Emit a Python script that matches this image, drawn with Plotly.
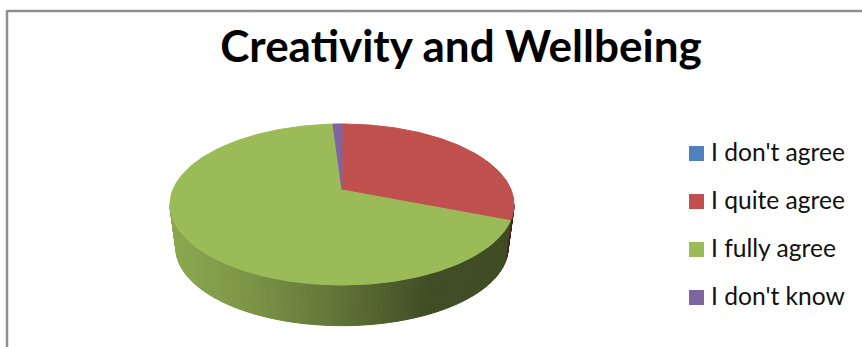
import math
import plotly.graph_objects as go

# Survey shares, in percent
categories = ["I don't agree", "I quite agree", "I fully agree", "I don't know"]
values = [0, 31, 68, 1]
colors = ["#4F81BD", "#C0504D", "#9BBB59", "#8064A2"]
chart_title = "Creativity and Wellbeing"

W, H = 862, 347

# Perspective disc: the angle runs clockwise from the far side of the pie
TOP_CX, TOP_CY = 342, 190
BASE_CY = 234
RX, RY = 169.2, 77.9
TILT = 0.18
BASE_SCALE = 0.965

# Side-wall shading as (screen x, brightness multiplier)
WALL_SHADE = [(170, 0.90), (250, 0.79), (342, 0.61), (430, 0.41), (515, 0.41)]


def project(deg, base=False):
    s, c = math.sin(math.radians(deg)), math.cos(math.radians(deg))
    w = 1 + TILT * c
    scale = BASE_SCALE if base else 1.0
    cy = BASE_CY if base else TOP_CY
    return TOP_CX + scale * RX * s / w, cy - scale * RY * c / w


def shade_at(x):
    for (x0, f0), (x1, f1) in zip(WALL_SHADE, WALL_SHADE[1:]):
        if x <= x1:
            return f0 + (f1 - f0) * (x - x0) / (x1 - x0)
    return WALL_SHADE[-1][1]


def darken(hex_color, factor):
    r, g, b = (int(hex_color[i:i + 2], 16) for i in (1, 3, 5))
    return f"rgb({r * factor:.0f},{g * factor:.0f},{b * factor:.0f})"


# Cumulative slice limits in degrees
total = sum(values)
limits = [0.0]
for v in values:
    limits.append(limits[-1] + 360 * v / total)

fig = go.Figure()


def add_polygon(xs, ys, color):
    fig.add_trace(go.Scatter(
        x=xs, y=ys, mode="lines", fill="toself", fillcolor=color,
        line=dict(color=color, width=1), hoverinfo="skip", showlegend=False,
    ))


# Outer wall, built from narrow strips along the visible front arc
wall_start = math.degrees(math.acos(-TILT))
wall_end = 360 - wall_start
n_strips = 160
for i in range(n_strips):
    a0 = wall_start + (wall_end - wall_start) * i / n_strips
    a1 = wall_start + (wall_end - wall_start) * (i + 1) / n_strips
    mid = (a0 + a1) / 2
    idx = next(k for k in range(len(values)) if limits[k] <= mid < limits[k + 1])
    p = [project(a0), project(a1), project(a1, True), project(a0, True)]
    xs = [q[0] for q in p] + [p[0][0]]
    ys = [q[1] for q in p] + [p[0][1]]
    add_polygon(xs, ys, darken(colors[idx], shade_at((p[0][0] + p[1][0]) / 2)))

# Top face of every non-empty slice
for k, v in enumerate(values):
    if v == 0:
        continue
    steps = max(2, int(limits[k + 1] - limits[k]))
    pts = [project(limits[k] + (limits[k + 1] - limits[k]) * j / steps) for j in range(steps + 1)]
    add_polygon([TOP_CX] + [q[0] for q in pts] + [TOP_CX],
                [TOP_CY] + [q[1] for q in pts] + [TOP_CY], colors[k])

# Key on the right: one square swatch and one label per category
key_y = [153.5, 201.5, 249.5, 297.5]
for name, color, y in zip(categories, colors, key_y):
    fig.add_trace(go.Scatter(
        x=[696.5], y=[y], mode="markers",
        marker=dict(symbol="square", size=15, color=color, line=dict(width=0)),
        hoverinfo="skip", showlegend=False,
    ))
    fig.add_trace(go.Scatter(
        x=[711], y=[y + 1], mode="text", text=[name],
        textposition="middle right",
        textfont=dict(family="Lato", size=24.6, color="#111111"),
        hoverinfo="skip", showlegend=False,
    ))

fig.update_layout(
    width=W, height=H,
    margin=dict(l=0, r=0, t=0, b=0),
    paper_bgcolor="white", plot_bgcolor="white",
    showlegend=False,
    xaxis=dict(range=[0, W], visible=False, fixedrange=True),
    yaxis=dict(range=[H, 0], visible=False, fixedrange=True),
    title=dict(
        text=f"<b>{chart_title}</b>",
        x=461 / W, xanchor="center", y=1 - 47 / H, yanchor="middle",
        font=dict(family="Lato", size=44, color="black"),
    ),
    shapes=[
        dict(type="line", x0=7, x1=W, y0=11, y1=11, line=dict(color="#8F8F8F", width=2.5)),
        dict(type="line", x0=7, x1=7, y0=10, y1=H, line=dict(color="#8F8F8F", width=2.5)),
    ],
)

fig.write_html("out.html", config=dict(displayModeBar=False))
